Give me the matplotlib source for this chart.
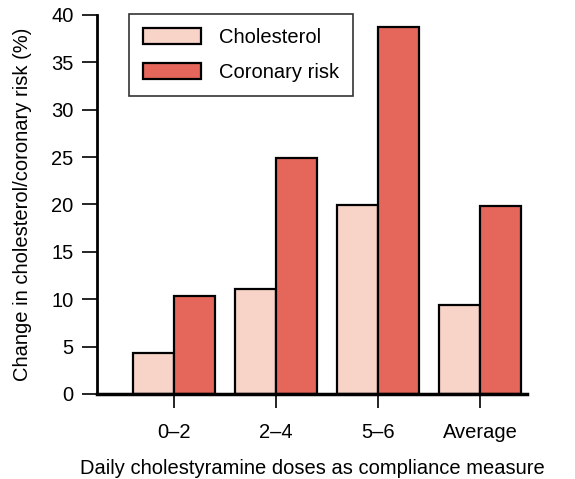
import numpy as np
import matplotlib.pyplot as plt

plt.rcParams['font.family'] = ['Liberation Sans', 'DejaVu Sans']
plt.rcParams['font.size'] = 14.5

# data
groups = ['0\u20132', '2\u20134', '5\u20136', 'Average']
cholesterol = [4.3, 11.1, 19.9, 9.4]
coronary = [10.3, 24.9, 38.7, 19.8]

x = np.arange(len(groups))
w = 0.4

fig = plt.figure(figsize=(5.75, 4.79), dpi=100)
ax = fig.add_axes([0.169, 0.1775, 0.7475, 0.7912])

ax.bar(x, cholesterol, width=-w, align='edge', color='#F8D3C7',
       edgecolor='black', linewidth=1.6, label='Cholesterol')
ax.bar(x, coronary, width=w, align='edge', color='#E5675B',
       edgecolor='black', linewidth=1.6, label='Coronary risk')

ax.set_xlim(-0.755, 3.46)
ax.set_ylim(0, 40)
ax.set_yticks(range(0, 41, 5))
ax.set_xticks(x)
ax.set_xticklabels(groups)

for s in ['top', 'right']:
    ax.spines[s].set_visible(False)
ax.spines['left'].set_linewidth(2)
ax.spines['bottom'].set_linewidth(2.5)

ax.tick_params(axis='y', length=11, width=1.2, pad=6)
ax.tick_params(axis='x', length=10, width=1.2, pad=11)

ax.set_ylabel('Change in cholesterol/coronary risk (%)', labelpad=14)
ax.set_xlabel('Daily cholestyramine doses as compliance measure', labelpad=12)

leg = ax.legend(loc='upper left', bbox_to_anchor=(0.073, 1.003), frameon=True,
                fancybox=False, edgecolor='black', handlelength=2.9,
                handleheight=0.85, handletextpad=0.9, labelspacing=0.8,
                borderpad=0.7, borderaxespad=0)
leg.get_frame().set_linewidth(1.2)

fig.savefig('out.png', dpi=100)
